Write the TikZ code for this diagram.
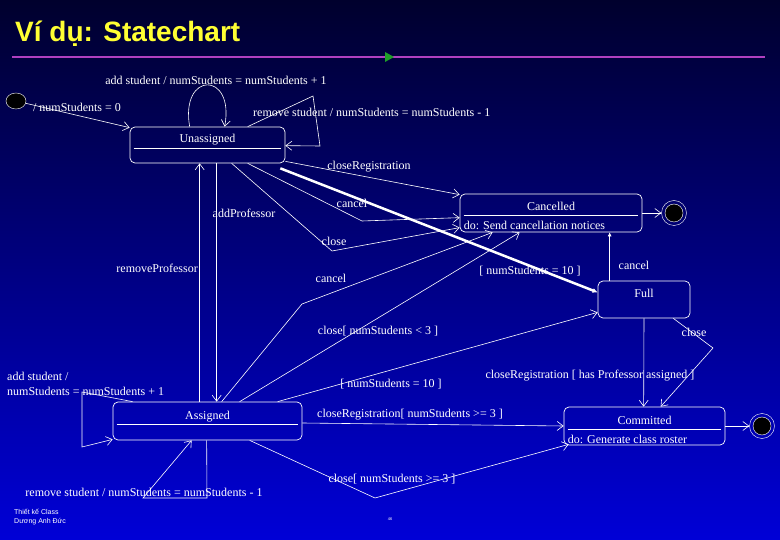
\documentclass[tikz,border=0pt]{standalone}
\usepackage{fontspec}
\setmainfont{Liberation Serif}
\newfontfamily\titlefont{Liberation Sans}
\usetikzlibrary{
  arrows.meta,%
  calc,%
  positioning,%
  shapes.geometric
}
\definecolor{slidetop}{RGB}{0,0,45}
\definecolor{slidebot}{RGB}{0,0,215}
\definecolor{titleyellow}{RGB}{255,255,51}
\definecolor{rulepurple}{RGB}{176,64,192}
\definecolor{rulegreen}{RGB}{30,160,40}
\tikzset{>={Straight Barb[length=6pt,width=9pt]}}
\tikzset{font=\fontsize{12}{15}\selectfont}
\tikzset{
  state/.style={draw=white, line width=0.7pt, rounded corners=5pt,
    minimum height=37pt, inner sep=0pt},
  lbl/.style={text=white, inner sep=0pt},
  trans/.style={draw=white, line width=0.6pt, ->},
  sepline/.style={draw=white, line width=0.7pt}
}

\begin{document}
\begin{tikzpicture}[x=1pt,y=-1pt]
  \useasboundingbox (0,0) rectangle (780,540);
  \shade[top color=slidetop, bottom color=slidebot] (0,0) rectangle (780,540);
  % title
  \node[anchor=base west, text=titleyellow, inner sep=0pt,
    font=\titlefont\bfseries\fontsize{28}{30}\selectfont] (title) at (15,42) {Ví dụ: Statechart};
  \draw[rulepurple, line width=2pt] (12,57) -- (765,57);
  \fill[rulegreen] (385,52) -- (394,57) -- (385,62) -- cycle;

  % states
  \node[ellipse, draw=white, fill=black, minimum width=20pt, minimum height=16pt,
    inner sep=0pt] (init) at (16,101) {};
  \node[state, minimum width=155pt, minimum height=36pt] (unas) at (207.5,145) {};
  \node[lbl] (unasname) at ([yshift=-13pt]unas.north) {Unassigned};
  \draw[sepline] ([xshift=4pt,yshift=-22pt]unas.north west) -- ([xshift=-4pt,yshift=-22pt]unas.north east);

  \node[state, minimum width=182pt, minimum height=38pt] (canc) at (551,213) {};
  \node[lbl] (cancname) at ([yshift=-13pt]canc.north) {Cancelled};
  \draw[sepline] ([xshift=4pt,yshift=-22pt]canc.north west) -- ([xshift=-4pt,yshift=-22pt]canc.north east);
  \node[lbl, anchor=west] (cancdo) at ([xshift=4pt,yshift=-32pt]canc.north west) {do: Send cancellation notices};

  \node[state, minimum width=92pt] (full) at (644,299.5) {};
  \node[lbl] (fullname) at ([yshift=-13pt]full.north) {Full};

  \node[state, minimum width=189pt, minimum height=38pt] (asgn) at (207.5,421) {};
  \node[lbl] (asgnname) at ([yshift=-15pt]asgn.north) {Assigned};
  \draw[sepline] ([xshift=4pt,yshift=-23pt]asgn.north west) -- ([xshift=-4pt,yshift=-23pt]asgn.north east);

  \node[state, minimum width=161pt, minimum height=38pt] (comm) at (644.5,426) {};
  \node[lbl] (commname) at ([yshift=-14pt]comm.north) {Committed};
  \draw[sepline] ([xshift=4pt,yshift=-23pt]comm.north west) -- ([xshift=-4pt,yshift=-23pt]comm.north east);
  \node[lbl, anchor=west] (commdo) at ([xshift=4pt,yshift=-33pt]comm.north west) {do: Generate class roster};

  \node[circle, draw=white, minimum size=25pt, inner sep=0pt] (fina) at (674,213) {};
  \node[circle, draw=white, fill=black, minimum size=18pt, inner sep=0pt] (finadot) at (fina) {};
  \node[circle, draw=white, minimum size=25pt, inner sep=0pt] (finb) at (762,426) {};
  \node[circle, draw=white, fill=black, minimum size=18pt, inner sep=0pt] (finbdot) at (finb) {};

  % transitions out of Unassigned
  \draw[trans] (init) -- ([yshift=-1pt]unas.north west);
  \draw[trans] ([xshift=60pt]unas.north west) .. controls (180,71) and (235,71) .. ([xshift=95pt]unas.north west);
  \draw[trans] ([xshift=118pt]unas.north west) -- (313,96) -- (320,146) -- ([yshift=-19pt]unas.north east);
  \draw[trans] ([yshift=2pt]unas.south east) -- ([yshift=-1pt]canc.north west);
  \draw[trans] ([xshift=118pt]unas.south west) -- (362,221) -- ([yshift=-24pt]canc.north west);
  \draw[trans] ([xshift=102pt]unas.south west) -- (332,251) -- ([yshift=-34pt]canc.north west);
  \draw[white, line width=2.5pt, -{Latex[length=5pt,width=5pt]}]
    ([xshift=-5pt,yshift=-5pt]unas.south east) -- ([yshift=26pt]full.south west);
  \draw[trans] ([xshift=87pt]unas.south west) -- ([xshift=104pt]asgn.north west);

  % transitions out of Assigned
  \draw[trans] ([xshift=87pt]asgn.north west) -- ([xshift=70pt]unas.south west);
  \draw[trans] ([xshift=109pt]asgn.north west) -- (302,304) -- ([xshift=33pt]canc.south west);
  \draw[trans] ([xshift=127pt]asgn.north west) -- ([xshift=60pt]canc.south west);
  \draw[trans] ([xshift=165pt]asgn.north west) -- ([yshift=6pt]full.south west);
  \draw[trans] ([xshift=20pt]asgn.north west) -- (82,392) -- (82,447) -- ([yshift=1pt]asgn.south west);
  \draw[trans] ([xshift=94pt]asgn.south west) -- (207,498) -- (143,498) -- ([xshift=79pt]asgn.south west);
  \draw[trans] ([yshift=-2pt]asgn.east) -- (comm.west);
  \draw[trans] ([xshift=137pt]asgn.south west) -- (375,498) -- ([xshift=5pt,yshift=1pt]comm.south west);

  % transitions out of Full
  \draw[white, line width=0.6pt, -{Latex[length=4pt,width=4pt]}]
    ([xshift=12pt]full.north west) -- ([xshift=150pt]canc.south west);
  \draw[trans] (full.south) -- ([xshift=80pt]comm.north west);
  \draw[trans] ([xshift=-17pt]full.south east) -- (713,348) -- ([xshift=97pt]comm.north west);

  % to final states
  \draw[trans] (canc.east) -- (fina.west);
  \draw[trans] (comm.east) -- (finb.west);

  % labels
  \node[lbl] (lblinit) at (77,107) {/ numStudents = 0};
  \node[lbl] (lbladd) at (216,80) {add student / numStudents = numStudents + 1};
  \node[lbl, anchor=west] (lblrem) at (253,112) {remove student / numStudents = numStudents - 1};
  \node[lbl] (lblclosereg) at (369,167) {closeRegistration};
  \node[lbl] (lblcancela) at (352,203) {cancel};
  \node[lbl] (lbladdprof) at (244,213) {addProfessor};
  \node[lbl] (lblclosea) at (334,241) {close};
  \node[lbl, anchor=east] (lblremprof) at (198,268) {removeProfessor};
  \node[lbl] (lblcancelb) at (331,278) {cancel};
  \node[lbl] (lbltena) at (530,271) {[ numStudents = 10 ]};
  \node[lbl] (lblcancelc) at (634,265) {cancel};
  \node[lbl] (lbllessthree) at (378,331) {close[ numStudents < 3 ]};
  \node[lbl] (lblcloseb) at (694,332) {close};
  \node[lbl, anchor=west, align=left] (lbladdb) at (7,383.5) {add student /\\numStudents = numStudents + 1};
  \node[lbl] (lbltenb) at (391,384) {[ numStudents = 10 ]};
  \node[lbl] (lblhasprof) at (590,376) {closeRegistration [ has Professor assigned ]};
  \node[lbl] (lblclosereg3) at (410,415) {closeRegistration[ numStudents >= 3 ]};
  \node[lbl] (lblclose3) at (392,479) {close[ numStudents >= 3 ]};
  \node[lbl] (lblremb) at (144,492) {remove student / numStudents = numStudents - 1};

  % footer
  \node[lbl, anchor=west, align=left, font=\titlefont\fontsize{7}{9}\selectfont] (footer) at (14,517.5) {Thiết kế Class\\Dương Anh Đức};
  \node[lbl, font=\titlefont\fontsize{4}{5}\selectfont] (pagenum) at (390,519) {46};
\end{tikzpicture}
\end{document}
